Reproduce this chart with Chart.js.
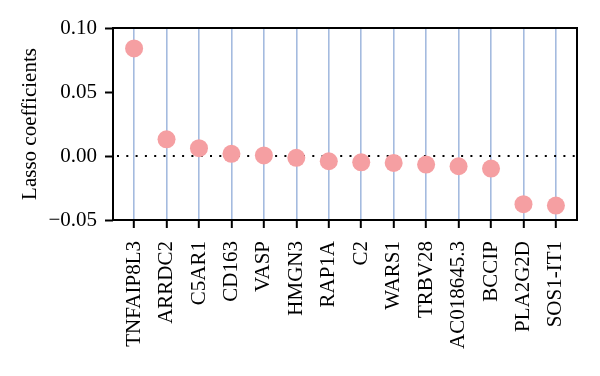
<!DOCTYPE html>
<html>
<head>
<meta charset="utf-8">
<script src="https://cdn.jsdelivr.net/npm/chart.js@4"></script>
<style>
  html, body { margin: 0; padding: 0; background: #fff; }
  #wrap { width: 600px; height: 376px; }
</style>
</head>
<body>
<div id="wrap"><canvas id="myChart" width="600" height="376"></canvas></div>
<script>
// gene names along the x axis
const genes = ['TNFAIP8L3', 'ARRDC2', 'C5AR1', 'CD163', 'VASP', 'HMGN3', 'RAP1A',
  'C2', 'WARS1', 'TRBV28', 'AC018645.3', 'BCCIP', 'PLA2G2D', 'SOS1-IT1'];
// lasso coefficients
const coefs = [0.084, 0.013, 0.0061, 0.0017, 0.0004, -0.0014, -0.0041,
  -0.0049, -0.0054, -0.0067, -0.008, -0.0098, -0.0376, -0.0387];
const yTicks = [-0.05, 0, 0.05, 0.10];

const serif = "'Liberation Serif', 'DejaVu Serif', serif";

// frame around the plot + dotted zero line
const framePlugin = {
  id: 'frame',
  beforeDatasetsDraw(chart) {
    const { ctx, chartArea: a, scales } = chart;
    const y0 = scales.y.getPixelForValue(0);
    ctx.save();
    ctx.strokeStyle = '#000';
    ctx.lineWidth = 2;
    ctx.setLineDash([2, 7.3]);
    ctx.beginPath();
    ctx.moveTo(a.left + 4, y0);
    ctx.lineTo(a.right, y0);
    ctx.stroke();
    ctx.restore();
  },
  afterDraw(chart) {
    const { ctx, chartArea: a } = chart;
    ctx.save();
    ctx.strokeStyle = '#000';
    ctx.lineWidth = 2;
    ctx.strokeRect(a.left, a.top, a.right - a.left, a.bottom - a.top);
    ctx.restore();
  }
};

const config = {
  type: 'scatter',
  data: {
    datasets: [{
      data: coefs.map((v, i) => ({ x: i, y: v })),
      backgroundColor: '#f59fa2',
      borderWidth: 0,
      pointRadius: 9,
      pointHoverRadius: 9
    }]
  },
  options: {
    responsive: false,
    animation: false,
    layout: { padding: { left: 18, top: 28, right: 23, bottom: 0 } },
    plugins: { legend: { display: false }, tooltip: { enabled: false } },
    scales: {
      x: {
        type: 'linear',
        min: -0.65,
        max: 13.65,
        afterBuildTicks: scale => { scale.ticks = genes.map((g, i) => ({ value: i })); },
        afterFit: scale => { scale.height = 156; },
        grid: { color: '#a4bbdf', lineWidth: 1.6, tickColor: '#000', tickLength: 8, tickWidth: 2 },
        border: { display: false },
        ticks: {
          autoSkip: false,
          minRotation: 90,
          maxRotation: 90,
          padding: 13,
          color: '#000',
          font: { family: serif, size: 21 },
          callback: v => genes[v]
        }
      },
      y: {
        min: -0.05,
        max: 0.10,
        afterBuildTicks: scale => { scale.ticks = yTicks.map(v => ({ value: v })); },
        afterFit: scale => { scale.width = 95; },
        grid: { drawOnChartArea: false, tickColor: '#000', tickLength: 8, tickWidth: 2 },
        border: { display: false },
        title: {
          display: true,
          text: 'Lasso coefficients',
          color: '#000',
          font: { family: serif, size: 21 },
          padding: { top: 0, bottom: 4 }
        },
        ticks: {
          color: '#000',
          padding: 8,
          font: { family: serif, size: 21 },
          callback: v => (v < 0 ? '\u2212' : '') + Math.abs(v).toFixed(2)
        }
      }
    }
  },
  plugins: [framePlugin]
};

new Chart(document.getElementById('myChart').getContext('2d'), config);
</script>
</body>
</html>
